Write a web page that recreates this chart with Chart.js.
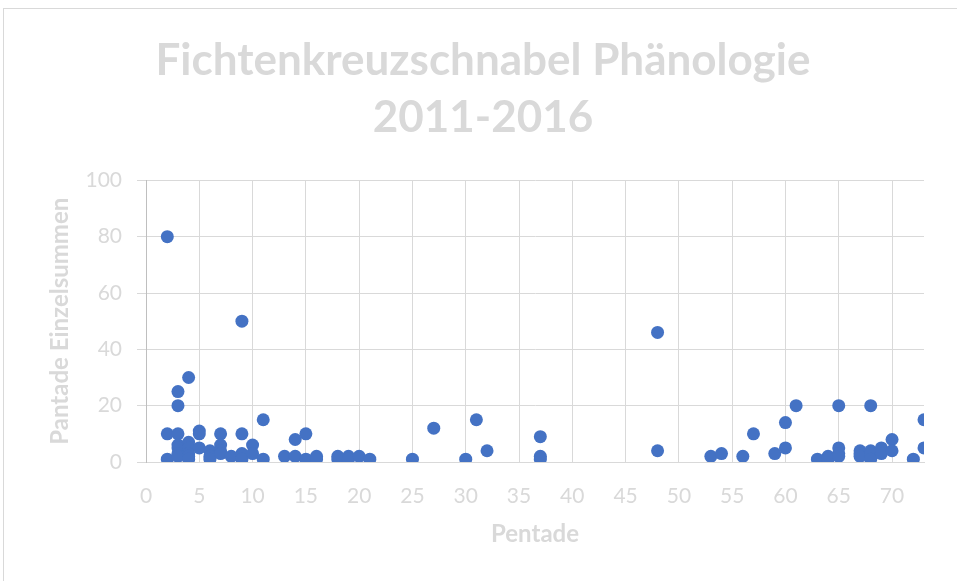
<!DOCTYPE html>
<html>
<head>
<meta charset="utf-8">
<script src="https://cdn.jsdelivr.net/npm/chart.js@4.4.1/dist/chart.umd.min.js"></script>
<style>
    html, body { margin: 0; padding: 0; background: #fff; }
    #wrap { position: relative; width: 957px; height: 581px; overflow: hidden; }
    #frame {
        position: absolute; left: 3px; top: 8px; width: 1000px; height: 700px;
        border-left: 1px solid #d9d9d9; border-top: 1px solid #d9d9d9;
    }
    canvas { position: absolute; left: 0; top: 0; }
</style>
</head>
<body>
<div id="wrap">
    <div id="frame"></div>
    <canvas id="phenoChart" width="957" height="581"></canvas>
</div>
<script>
// Pentade (x) and summed counts per pentade (y)
const pentade = [
    2, 2, 2,
    3, 3, 3, 3, 3, 3, 3,
    4, 4, 4, 4, 4, 4,
    5, 5, 5,
    6, 6, 6,
    7, 7, 7, 7,
    8,
    9, 9, 9, 9,
    10, 10,
    11, 11,
    13, 14, 14, 15, 15, 16, 16,
    18, 18, 19, 19, 20, 21,
    25, 27, 30, 31, 32, 37, 37, 37,
    48, 48, 53, 54, 56, 57, 59, 60, 60, 61,
    63, 64, 64, 65, 65, 65, 65,
    67, 67, 67, 68, 68, 68, 68, 69, 69, 70, 70, 72, 73, 73
];
const einzelsummen = [
    80, 10, 1,
    25, 20, 10, 6, 5, 3, 2,
    30, 7, 5, 3, 2, 1,
    11, 10, 5,
    4, 2, 1,
    10, 6, 4, 3,
    2,
    50, 10, 3, 1,
    6, 3,
    15, 1,
    2, 8, 2, 10, 1, 2, 1,
    1, 2, 2, 1, 2, 1,
    1, 12, 1, 15, 4, 9, 2, 1,
    46, 4, 2, 3, 2, 10, 3, 14, 5, 20,
    1, 2, 1, 20, 5, 3, 2,
    4, 3, 2, 20, 4, 3, 1, 5, 3, 8, 4, 1, 15, 5
];
const xTicks = [0, 5, 10, 15, 20, 25, 30, 35, 40, 45, 50, 55, 60, 65, 70];
const yTicks = [0, 20, 40, 60, 80, 100];
const titleLines = ['Fichtenkreuzschnabel Phänologie', '2011-2016'];
const xTitle = 'Pentade';
const yTitle = 'Pantade Einzelsummen';

const textGrey = '#d9d9d9';
const gridGrey = '#d9d9d9';
const dotBlue = '#4472c4';

const points = pentade.map((p, i) => ({ x: p, y: einzelsummen[i] }));

const ctx = document.getElementById('phenoChart').getContext('2d');
new Chart(ctx, {
    type: 'scatter',
    data: {
        datasets: [{
            label: 'Einzelsummen',
            data: points,
            backgroundColor: dotBlue,
            borderWidth: 0,
            pointRadius: 6.5,
            pointHoverRadius: 6.5
        }]
    },
    options: {
        responsive: false,
        animation: false,
        events: [],
        layout: {
            padding: { left: 42, right: 33, top: 0, bottom: 28 }
        },
        plugins: {
            legend: { display: false },
            tooltip: { enabled: false },
            title: {
                display: true,
                text: titleLines,
                color: textGrey,
                font: { family: 'Lato', size: 44, weight: 'bold', lineHeight: 1.3 },
                padding: { top: 32, bottom: 34 }
            }
        },
        scales: {
            x: {
                type: 'linear',
                min: 0,
                max: 73,
                // Excel stops the axis at 73 but labels only multiples of 5
                afterBuildTicks: axis => {
                    axis.ticks = xTicks.map(v => ({ value: v }));
                },
                afterFit: axis => { axis.height = 91; },
                ticks: {
                    color: textGrey,
                    padding: 22,
                    maxRotation: 0,
                    autoSkip: false,
                    font: { family: 'Lato', size: 21 }
                },
                grid: { color: gridGrey, drawTicks: false },
                border: { color: gridGrey },
                title: {
                    display: true,
                    text: xTitle,
                    color: textGrey,
                    font: { family: 'Lato', size: 24, weight: 'bold' }
                }
            },
            y: {
                min: 0,
                max: 100,
                afterBuildTicks: axis => {
                    axis.ticks = yTicks.map(v => ({ value: v }));
                },
                afterFit: axis => { axis.width = 104; },
                ticks: {
                    color: textGrey,
                    padding: 15,
                    font: { family: 'Lato', size: 21 }
                },
                grid: { color: gridGrey, tickLength: 9 },
                border: { color: '#bfbfbf' },
                title: {
                    display: true,
                    text: yTitle,
                    color: textGrey,
                    font: { family: 'Lato', size: 24, weight: 'bold' }
                }
            }
        }
    }
});
</script>
</body>
</html>
